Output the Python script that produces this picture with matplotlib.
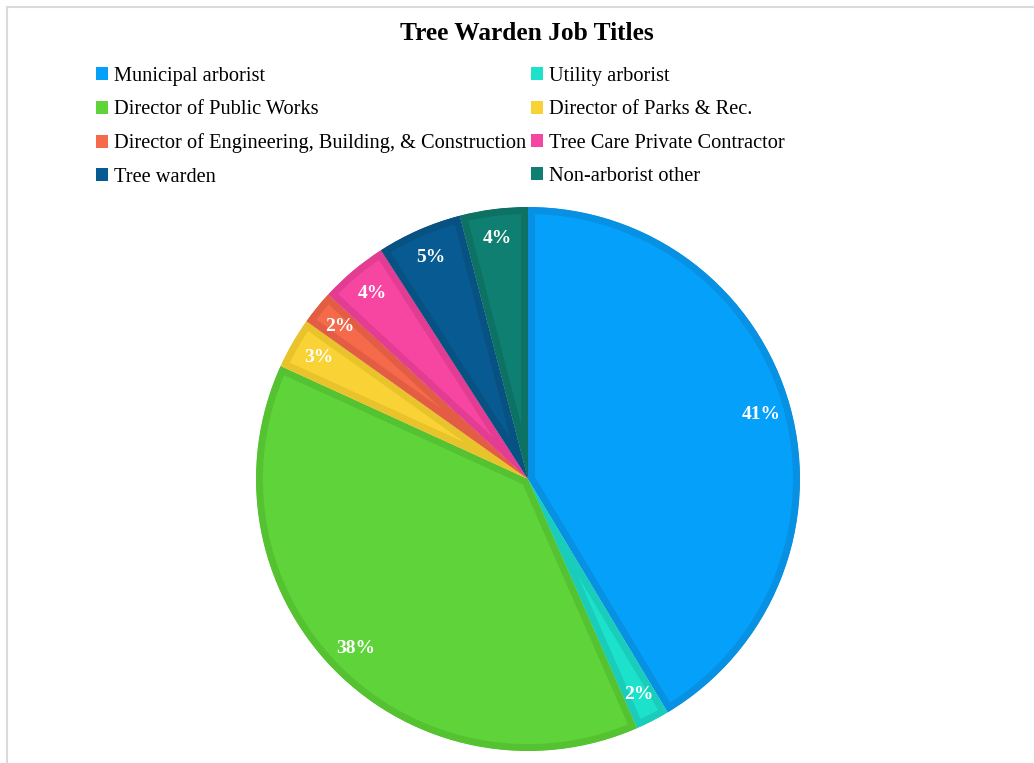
import matplotlib
matplotlib.use("Agg")
import matplotlib.pyplot as plt
from matplotlib.patches import Rectangle, Patch

plt.rcParams['font.family'] = ['Liberation Serif', 'DejaVu Serif']

categories = [
    "Municipal arborist",
    "Utility arborist",
    "Director of Public Works",
    "Director of Parks & Rec.",
    "Director of Engineering, Building, & Construction",
    "Tree Care Private Contractor",
    "Tree warden",
    "Non-arborist other",
]
shares = [41, 2, 38, 3, 2, 4, 5, 4]
fill_colors = ["#04A0FA", "#1CE2CB", "#5FD43A", "#F9D335", "#F56A4A", "#F746A2", "#075B92", "#0F7F72"]
edge_colors = ["#0890E2", "#19CDBA", "#55C232", "#E8C32C", "#E35C44", "#E23D92", "#075282", "#0D7263"]

W, H = 1034, 763
fig = plt.figure(figsize=(W / 100, H / 100), dpi=100)
fig.patch.set_facecolor("white")

# thin grey frame along the top and left
fig.add_artist(Rectangle((7 / W, -0.1), 1.2, (H - 7) / H + 0.1, transform=fig.transFigure,
                         facecolor="none", edgecolor="#DADADA", linewidth=1.5))

fig.text(527 / W, 1 - 33 / H, "Tree Warden Job Titles", ha="center", va="center",
         fontsize=18.3, fontweight="bold")

# pie area
r_px = 272
cx, cy = 528, 479
ax = fig.add_axes([(cx - r_px) / W, 1 - (cy + r_px) / H, 2 * r_px / W, 2 * r_px / H])
wedges, texts, autotexts = ax.pie(
    shares, colors=fill_colors, startangle=90, counterclock=False,
    autopct=lambda p: "", pctdistance=0.89, radius=1.0,
    wedgeprops=dict(linewidth=10, edgecolor="none", joinstyle="miter"),
)
# darker inner border: a wide stroke clipped to the wedge's own outline
for w, ec in zip(wedges, edge_colors):
    w.set_edgecolor(ec)
    w.set_clip_on(True)
    w.set_clip_path(w.get_path(), ax.transData)
for t, v in zip(autotexts, shares):
    t.set_text(f"{v}%")
    t.set_color("white")
    t.set_fontsize(14)
    t.set_fontweight("bold")
ax.set_xlim(-1, 1)
ax.set_ylim(-1, 1)
ax.set_aspect("equal")
ax.axis("off")

# legend, filled row by row in two columns
handles = [Patch(facecolor=c, edgecolor="none") for c in fill_colors]
order = [0, 2, 4, 6, 1, 3, 5, 7]
leg = fig.legend([handles[i] for i in order], [categories[i] for i in order],
                 ncol=2, loc="upper left", bbox_to_anchor=(96 / W, 1 - 67 / H),
                 frameon=False, fontsize=14.7, handlelength=0.6, handleheight=0.6,
                 handletextpad=0.3, columnspacing=0.2, labelspacing=0.7,
                 borderaxespad=0, borderpad=0)

fig.savefig("out.png", dpi=100, facecolor="white")
